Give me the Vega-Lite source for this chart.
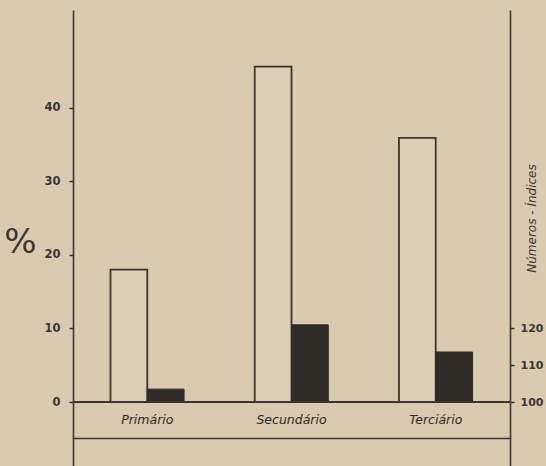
{
  "$schema": "https://vega.github.io/schema/vega-lite/v6.json",
  "width": 437,
  "height": 456,
  "autosize": "none",
  "padding": {"left": 73, "top": 10, "right": 36, "bottom": 0},
  "background": "#d9caaf",
  "config": {
    "view": {"stroke": null},
    "axis": {
      "labelFont": "DejaVu Sans",
      "labelFontWeight": "bold",
      "labelFontSize": 11.5,
      "labelColor": "#3d3732",
      "domainColor": "#3b3530",
      "domainWidth": 1.6,
      "tickColor": "#3b3530",
      "tickWidth": 1.5,
      "grid": false
    }
  },
  "data": {
    "values": [
      {"setor": "Primário", "serie": "pct", "valor": 18.0},
      {"setor": "Primário", "serie": "indice", "valor": 103.5},
      {"setor": "Secundário", "serie": "pct", "valor": 45.6},
      {"setor": "Secundário", "serie": "indice", "valor": 121.0},
      {"setor": "Terciário", "serie": "pct", "valor": 35.9},
      {"setor": "Terciário", "serie": "indice", "valor": 113.6}
    ]
  },
  "encoding": {
    "x": {
      "field": "setor",
      "type": "nominal",
      "sort": ["Primário", "Secundário", "Terciário"],
      "scale": {"paddingInner": 0.49, "paddingOuter": 0.26},
      "axis": {
        "orient": "bottom",
        "offset": -28,
        "title": null,
        "ticks": false,
        "labelAngle": 0,
        "labelFont": "DejaVu Sans",
        "labelFontStyle": "italic",
        "labelFontWeight": "normal",
        "labelFontSize": 12.5,
        "labelColor": "#2e2925",
        "labelBaseline": "middle",
        "labelPadding": -19
      }
    },
    "xOffset": {
      "field": "serie",
      "type": "nominal",
      "sort": ["pct", "indice"],
      "scale": {"domain": ["pct", "indice"], "paddingInner": 0, "paddingOuter": 0}
    }
  },
  "layer": [
    {
      "transform": [{"filter": "datum.serie === 'pct'"}],
      "mark": {"type": "bar", "fill": "#dbceb5", "stroke": "#3b3530", "strokeWidth": 1.8},
      "encoding": {
        "y": {
          "field": "valor",
          "type": "quantitative",
          "scale": {"domain": [-8.7, 53.3], "nice": false, "zero": false},
          "axis": {
            "orient": "left",
            "values": [0, 10, 20, 30, 40],
            "tickSize": 4,
            "labelPadding": 9,
            "title": "%",
            "titleAngle": 0,
            "titleFont": "DejaVu Sans",
            "titleFontSize": 34,
            "titleFontWeight": "normal",
            "titleColor": "#3b3530",
            "titleAlign": "center",
            "titleBaseline": "middle",
            "titleX": -53,
            "titleY": 232
          }
        },
        "y2": {"datum": 0}
      }
    },
    {
      "transform": [{"filter": "datum.serie === 'indice'"}],
      "mark": {"type": "bar", "fill": "#2f2b27", "stroke": "#2f2b27", "strokeWidth": 1},
      "encoding": {
        "y": {
          "field": "valor",
          "type": "quantitative",
          "scale": {"domain": [82.6, 206.6], "nice": false, "zero": false},
          "axis": {
            "orient": "right",
            "values": [100, 110, 120],
            "tickSize": 4,
            "labelPadding": 6,
            "labelFontSize": 11,
            "title": "Números - Índices",
            "titleAngle": -90,
            "titleFont": "DejaVu Sans",
            "titleFontSize": 12,
            "titleFontStyle": "italic",
            "titleFontWeight": "normal",
            "titleColor": "#3b3530",
            "titleAlign": "center",
            "titleBaseline": "middle",
            "titleX": 21,
            "titleY": 208
          }
        },
        "y2": {"datum": 100}
      }
    },
    {
      "mark": {"type": "rule", "color": "#3b3530", "strokeWidth": 1.6},
      "encoding": {
        "x": null,
        "xOffset": null,
        "y": {
          "datum": 0,
          "type": "quantitative",
          "scale": {"domain": [-8.7, 53.3], "nice": false, "zero": false},
          "axis": null
        }
      }
    }
  ],
  "resolve": {"scale": {"y": "independent"}, "axis": {"y": "independent"}}
}
